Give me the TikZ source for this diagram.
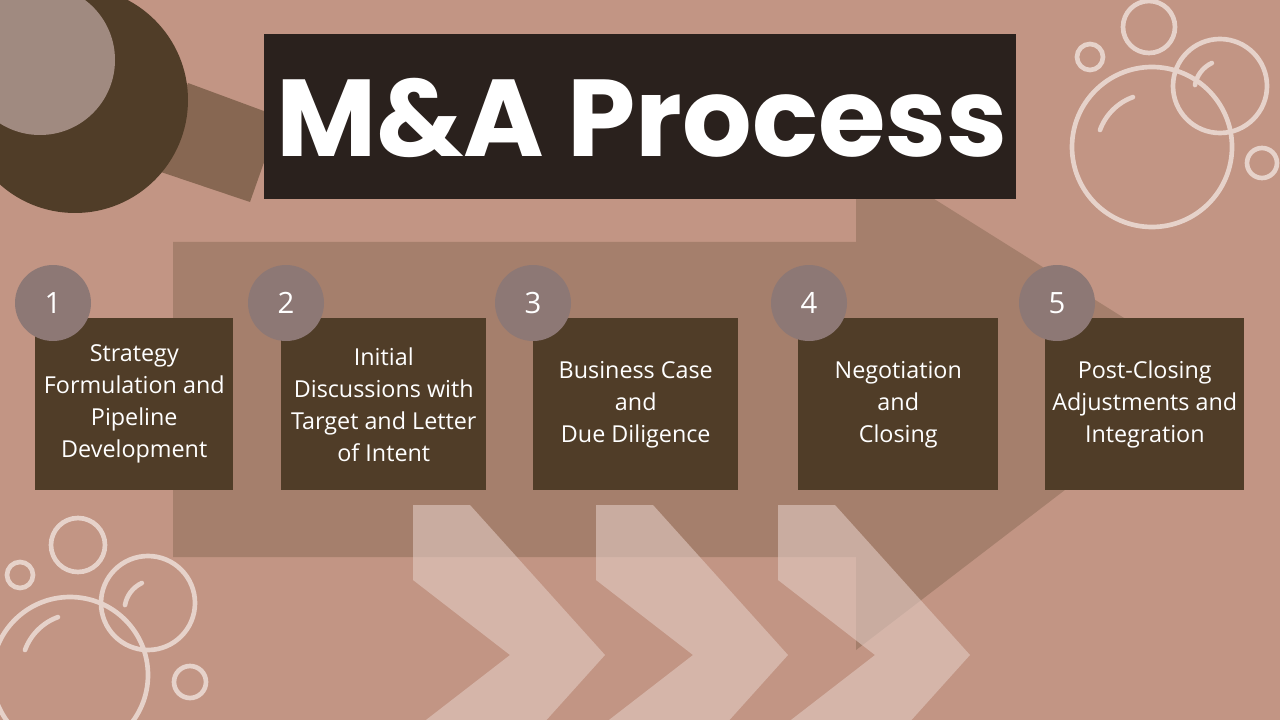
\documentclass[tikz,border=0pt]{standalone}
\usepackage{fontspec}
\setmainfont{Open Sans}
\newfontfamily\titlefont{Poppins}[UprightFont=* Bold]
\definecolor{bg}{HTML}{C29584}
\definecolor{arrowc}{HTML}{A57F6C}
\definecolor{boxc}{HTML}{503D28}
\definecolor{numc}{HTML}{8D7875}
\definecolor{titlec}{HTML}{2A211D}
\definecolor{bub}{HTML}{E6D2CA}
\definecolor{barc}{HTML}{876752}
\definecolor{greyc}{HTML}{A08A80}
\definecolor{chev}{HTML}{E2CBC3}
\tikzset{
 stepbox/.style={fill=boxc,minimum width=#1,minimum height=172*0.75pt,anchor=north west,inner sep=0pt,text=white,align=center,font=\fontsize{17.5}{24}\selectfont},
 numdot/.style={circle,fill=numc,minimum size=76*0.75pt,inner sep=0pt,text=white,font=\fontsize{22}{24}\selectfont},
 bubble/.style={draw=bub,line width=3.5pt},
 hl/.style={draw=bub,line width=3.5pt,line cap=round}
}
\begin{document}
\begin{tikzpicture}[x=0.75pt,y=-0.75pt]
\fill[bg] (0,0) rectangle (1280,720);
\useasboundingbox (0,0) rectangle (1280,720);
% big arrow
\fill[arrowc] (173,242) -- (856,242) -- (856,150) -- (1215,375) -- (856,650) -- (856,557) -- (173,557) -- cycle;
% chevrons
\foreach \dx in {0,183,365}{
 \fill[chev,opacity=0.6] ({413+\dx},505) -- ({470+\dx},505) -- ({605+\dx},655) -- ({470+\dx},805) -- ({413+\dx},805) -- ({413+\dx},730) -- ({510+\dx},655) -- ({413+\dx},580) -- cycle;
}
% top-left decoration
\fill[barc] (188,83) -- (280,117) -- (250,202) -- (155,170) -- cycle;
\fill[boxc] (75,100) circle[radius=113];
\fill[greyc] (40,60) circle[radius=75];
% title
\node[fill=titlec,minimum width=752*0.75pt,minimum height=165*0.75pt,anchor=north west,inner sep=0pt] (title) at (264,34) {};
\node[text=white,font=\titlefont\fontsize{82}{82}\selectfont] (tt) at (642,118) {M\&A Process};
% bubbles top-right
\draw[bubble] (1149,27) circle[radius=26];
\draw[bubble] (1090,57) circle[radius=13];
\draw[bubble] (1220,86) circle[radius=47];
\draw[bubble] (1152,147) circle[radius=80];
\draw[bubble] (1262,163) circle[radius=15];
\draw[hl] (1100,130) arc[start angle=200,end angle=250,radius=55];
\draw[hl] (1195,85) arc[start angle=190,end angle=245,radius=30];
% bubbles bottom-left
\draw[bubble] (78,545) circle[radius=27];
\draw[bubble] (20,575) circle[radius=13];
\draw[bubble] (148,603) circle[radius=47];
\draw[bubble] (70,675) circle[radius=78];
\draw[bubble] (190,682) circle[radius=16];
\draw[hl] (25,650) arc[start angle=200,end angle=250,radius=55];
\draw[hl] (125,605) arc[start angle=190,end angle=245,radius=30];
% steps
\node[stepbox=198*0.75pt] (b1) at (35,318) {Strategy\\Formulation and\\Pipeline\\Development};
\node[stepbox=205*0.75pt] (b2) at (281,318) {Initial\\Discussions with\\Target and Letter\\of Intent};
\node[stepbox=205*0.75pt] (b3) at (533,318) {Business Case\\and\\Due Diligence};
\node[stepbox=200*0.75pt] (b4) at (798,318) {Negotiation\\and\\Closing};
\node[stepbox=199*0.75pt] (b5) at (1045,318) {Post-Closing\\Adjustments and\\Integration};
\node[numdot] (n1) at (53,303) {1};
\node[numdot] (n2) at (286,303) {2};
\node[numdot] (n3) at (533,303) {3};
\node[numdot] (n4) at (809,303) {4};
\node[numdot] (n5) at (1057,303) {5};
\end{tikzpicture}
\end{document}
